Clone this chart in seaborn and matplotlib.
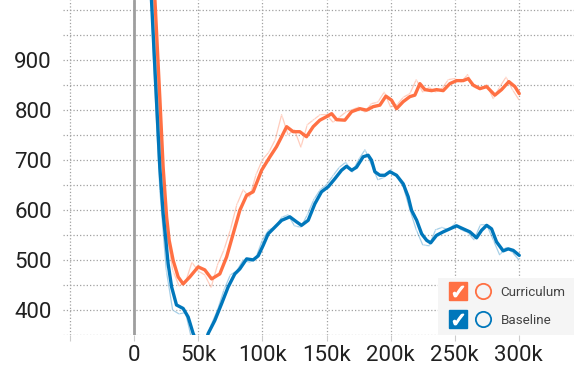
import numpy as np
import pandas as pd
import matplotlib
matplotlib.use('Agg')
import matplotlib.pyplot as plt
import seaborn as sns
from matplotlib.lines import Line2D
from matplotlib.legend_handler import HandlerTuple

# smoothed curves, step in thousands
curr_steps = [12, 16.2, 20.1, 22.6, 25.3, 27.3, 30.4, 34.3, 38.2, 43.4, 49.9, 55.1, 60.4, 66.8,
              72.1, 77.2, 82.4, 87.7, 92.8, 99.4, 105.9, 111, 115, 118.9, 124, 129.2, 134.4,
              139.6, 144.8, 150, 154, 157.9, 164.3, 169.6, 176, 181.2, 186.4, 191.6, 196.3,
              200.7, 204.6, 209.8, 215, 218.9, 222.8, 226.7, 231.9, 235.8, 241, 246.2, 251.5,
              256.6, 260.5, 264.4, 269.6, 274.9, 281.3, 286.5, 292.2, 296.9, 300.3]
curr_vals = [1230, 1019, 819, 685, 586, 539, 499, 466, 452, 466, 486, 480, 462, 472,
             506, 552, 599, 629, 636, 679, 706, 726, 746, 766, 756, 756, 746,
             766, 779, 786, 792, 780, 779, 796, 802, 799, 806, 809, 827,
             819, 802, 816, 826, 829, 852, 840, 838, 840, 838, 852, 858,
             858, 862, 849, 842, 846, 829, 840, 856, 846, 832]

base_steps = [10, 13.5, 17.4, 20, 22.6, 24.7, 26.5, 29.2, 33, 38.2, 42.1, 46, 51, 55, 57.7,
              62.9, 68.1, 73.3, 78.5, 82.4, 87.7, 92.8, 96.7, 100.6, 104.5, 108.4, 115,
              121.4, 126.6, 130.5, 135.7, 140.9, 146.1, 151.3, 156.5, 161.7, 165.6, 169.6,
              173.4, 178.6, 182.5, 185.1, 187.7, 191.6, 195.5, 199.4, 204.6, 209.8, 213.7,
              216.3, 220.3, 224.2, 228.1, 231.2, 235.8, 241, 246.2, 251.5, 256.6, 261.8,
              267, 270.9, 274.9, 278.7, 282.6, 287.8, 291.7, 295.6, 300.3]
base_vals = [1190, 1019, 819, 685, 592, 539, 492, 446, 410, 403, 386, 353, 325, 330, 353,
             379, 412, 446, 472, 482, 502, 500, 508, 529, 552, 562, 579,
             586, 576, 569, 579, 612, 636, 646, 662, 679, 687, 679,
             685, 706, 709, 699, 676, 669, 669, 676, 669, 652, 626,
             599, 579, 552, 539, 534, 549, 556, 562, 568, 562, 556,
             544, 559, 569, 562, 536, 518, 522, 519, 509]

# raw (unsmoothed) values every 5k steps
raw_steps = list(range(10, 301, 5))
curr_raw = [1300, 1000, 760, 560, 480, 448, 455, 495, 478, 470, 445, 490, 520, 560, 610,
            640, 625, 670, 700, 715, 740, 790, 750, 760, 725, 770, 780, 790, 790, 775,
            785, 795, 800, 805, 795, 812, 815, 835, 805, 810, 825, 832, 860, 835, 845,
            835, 842, 860, 862, 855, 870, 845, 840, 850, 822, 845, 865, 840, 820]
base_raw = [1250, 900, 640, 480, 400, 392, 395, 340, 310, 330, 370, 400, 440, 470, 478,
            500, 495, 505, 540, 560, 565, 585, 590, 568, 565, 590, 620, 640, 650, 668,
            685, 695, 675, 700, 720, 690, 660, 665, 680, 665, 645, 600, 560, 530, 528,
            560, 565, 560, 572, 560, 555, 540, 570, 570, 540, 510, 525, 515, 500]

runs = ['Curriculum', 'Baseline']
colors = {'Curriculum': '#ff7043', 'Baseline': '#0077bb'}

x_ticks = [-50000, 0, 50000, 100000, 150000, 200000, 250000, 300000]
x_labels = ['', '0', '50k', '100k', '150k', '200k', '250k', '300k']
y_ticks = [350, 400, 450, 500, 550, 600, 650, 700, 750, 800, 850, 900, 950, 1000]
y_labels = ['', '400', '', '500', '', '600', '', '700', '', '800', '', '900', '', '']

smooth_df = pd.concat([
    pd.DataFrame({'step': np.array(curr_steps) * 1000, 'value': curr_vals, 'run': 'Curriculum'}),
    pd.DataFrame({'step': np.array(base_steps) * 1000, 'value': base_vals, 'run': 'Baseline'}),
], ignore_index=True)
raw_df = pd.concat([
    pd.DataFrame({'step': np.array(raw_steps) * 1000, 'value': curr_raw, 'run': 'Curriculum'}),
    pd.DataFrame({'step': np.array(raw_steps) * 1000, 'value': base_raw, 'run': 'Baseline'}),
], ignore_index=True)

sns.set_theme(style='white')
plt.rcParams['font.family'] = ['Roboto', 'DejaVu Sans']

fig = plt.figure(figsize=(5.74, 3.72), dpi=100)
ax = fig.add_axes([63 / 574, 1 - 335 / 372, 1 - 63 / 574, 335 / 372])

# faint raw data
sns.lineplot(data=raw_df, x='step', y='value', hue='run', hue_order=runs, palette=colors,
             alpha=0.35, lw=0.9, marker='+', markersize=5, markeredgewidth=0.7,
             legend=False, ax=ax, zorder=2)
# smoothed lines
sns.lineplot(data=smooth_df, x='step', y='value', hue='run', hue_order=runs, palette=colors,
             lw=2.4, legend=False, ax=ax, zorder=3)

ax.axvline(0, color='#9e9e9e', lw=2, zorder=1.5)

ax.set_xlim(-55500, 343000)
ax.set_ylim(350, 1019)
ax.set_xticks(x_ticks)
ax.set_xticklabels(x_labels)
ax.set_yticks(y_ticks)
ax.set_yticklabels(y_labels)
ax.set_xlabel('')
ax.set_ylabel('')
ax.set_axisbelow(True)
ax.grid(True, color='#a0a0a0', linestyle=':', lw=0.9)
for s in ax.spines.values():
    s.set_visible(False)
ax.tick_params(axis='x', length=4, width=0.8, color='#cccccc', pad=3.5, labelsize=16,
               labelcolor='#212121', bottom=True)
ax.tick_params(axis='y', length=0, pad=8, labelsize=16, labelcolor='#212121')

# legend with checkbox + ring per run
handles = []
for r in runs:
    box = Line2D([], [], marker='s', ms=13, mfc=colors[r], mec=colors[r], ls='none')
    ring = Line2D([], [], marker='o', ms=11, mfc='none', mec=colors[r], mew=1.3, ls='none')
    tick = Line2D([], [], marker='$\\checkmark$', ms=7.5, color='white', mec='white', ls='none')
    handles.append((box, ring, tick))
leg = ax.legend(handles, runs, handler_map={tuple: HandlerTuple(ndivide=2, pad=0.23)},
                numpoints=1, handlelength=3.53, handletextpad=0.53, loc='lower right',
                bbox_to_anchor=(1.0, 0.0), borderaxespad=0, borderpad=0.62,
                labelspacing=1.1, frameon=True, fancybox=False, facecolor='#f5f5f5',
                edgecolor='none', framealpha=1, fontsize=9.6)
for t in leg.get_texts():
    t.set_color('#424242')

fig.savefig('out.png', dpi=100)
